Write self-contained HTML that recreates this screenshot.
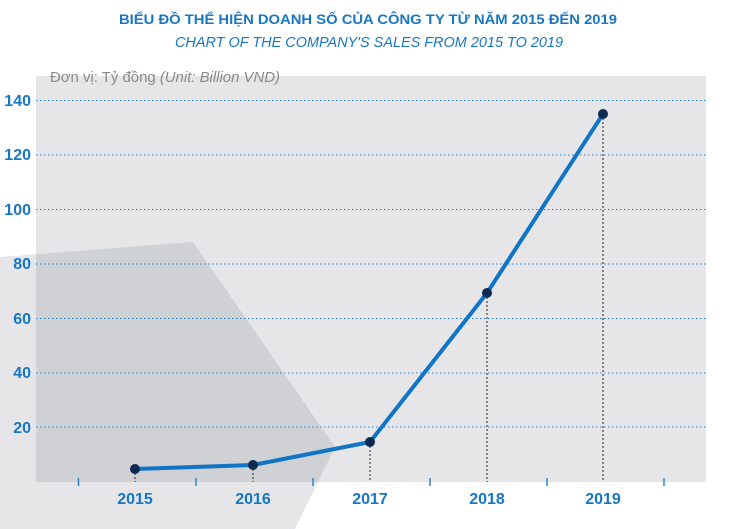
<!DOCTYPE html>
<html><head><meta charset="utf-8"><style>
body{margin:0;background:#fff;}
svg{display:block;font-family:"Liberation Sans",sans-serif;}
</style></head><body>
<svg width="735" height="529" viewBox="0 0 735 529">
<polygon points="0,257 193,242 335,447 295,529 0,529" fill="#e6e6e8"/>
<rect x="36" y="76" width="670" height="406" fill="#e6e6e8"/>
<clipPath id="c"><rect x="36" y="76" width="670" height="406"/></clipPath>
<polygon clip-path="url(#c)" points="0,257 193,242 335,447 295,529 0,529" fill="#d0d1d4"/>
<text x="368" y="24" text-anchor="middle" font-size="14" font-weight="bold" fill="#1877c4" textLength="498" lengthAdjust="spacingAndGlyphs">BIỂU ĐỒ THỂ HIỆN DOANH SỐ CỦA CÔNG TY TỪ NĂM 2015 ĐẾN 2019</text>
<text x="369" y="47" text-anchor="middle" font-size="14.5" font-style="italic" fill="#1877c4" textLength="388" lengthAdjust="spacingAndGlyphs">CHART OF THE COMPANY'S SALES FROM 2015 TO 2019</text>
<text x="50" y="82" font-size="15" fill="#8a8a8c" textLength="230" lengthAdjust="spacingAndGlyphs">Đơn vị: Tỷ đồng <tspan font-style="italic">(Unit: Billion VND)</tspan></text>
<g stroke="#2a86cf" stroke-width="1" stroke-dasharray="1.5,2.5">
<line x1="36" x2="706" y1="100.5" y2="100.5"/>
<line x1="36" x2="706" y1="155" y2="155"/>
<line x1="36" x2="706" y1="209.5" y2="209.5"/>
<line x1="36" x2="706" y1="264" y2="264"/>
<line x1="36" x2="706" y1="318.5" y2="318.5"/>
<line x1="36" x2="706" y1="373" y2="373"/>
<line x1="36" x2="706" y1="427" y2="427"/>
</g>
<g font-size="16" font-weight="bold" fill="#1877c4" text-anchor="end">
<text x="31" y="106">140</text><text x="31" y="160">120</text><text x="31" y="215">100</text>
<text x="31" y="269">80</text><text x="31" y="324">60</text><text x="31" y="378">40</text><text x="31" y="433">20</text>
</g>
<g stroke="#2a86cf" stroke-width="1.5">
<line x1="78.5" x2="78.5" y1="478" y2="486"/><line x1="196" x2="196" y1="478" y2="486"/>
<line x1="313" x2="313" y1="478" y2="486"/><line x1="430" x2="430" y1="478" y2="486"/>
<line x1="547" x2="547" y1="478" y2="486"/><line x1="664" x2="664" y1="478" y2="486"/>
</g>
<g stroke="#222" stroke-width="1" stroke-dasharray="2,2">
<line x1="135" x2="135" y1="469" y2="482"/><line x1="253" x2="253" y1="465" y2="482"/>
<line x1="370" x2="370" y1="442" y2="482"/><line x1="487" x2="487" y1="293" y2="482"/>
<line x1="603" x2="603" y1="114" y2="482"/>
</g>
<g font-size="16" font-weight="bold" fill="#1877c4" text-anchor="middle">
<text x="135" y="504">2015</text><text x="253" y="504">2016</text><text x="370" y="504">2017</text>
<text x="487" y="504">2018</text><text x="603" y="504">2019</text>
</g>
<polyline points="135,469 253,465 370,442 487,293 603,114" fill="none" stroke="#1075c6" stroke-width="4" stroke-linejoin="round"/>
<g fill="#0e2a52">
<circle cx="135" cy="469" r="5"/><circle cx="253" cy="465" r="5"/><circle cx="370" cy="442" r="5"/>
<circle cx="487" cy="293" r="5"/><circle cx="603" cy="114" r="5"/>
</g>
</svg>
</body></html>
